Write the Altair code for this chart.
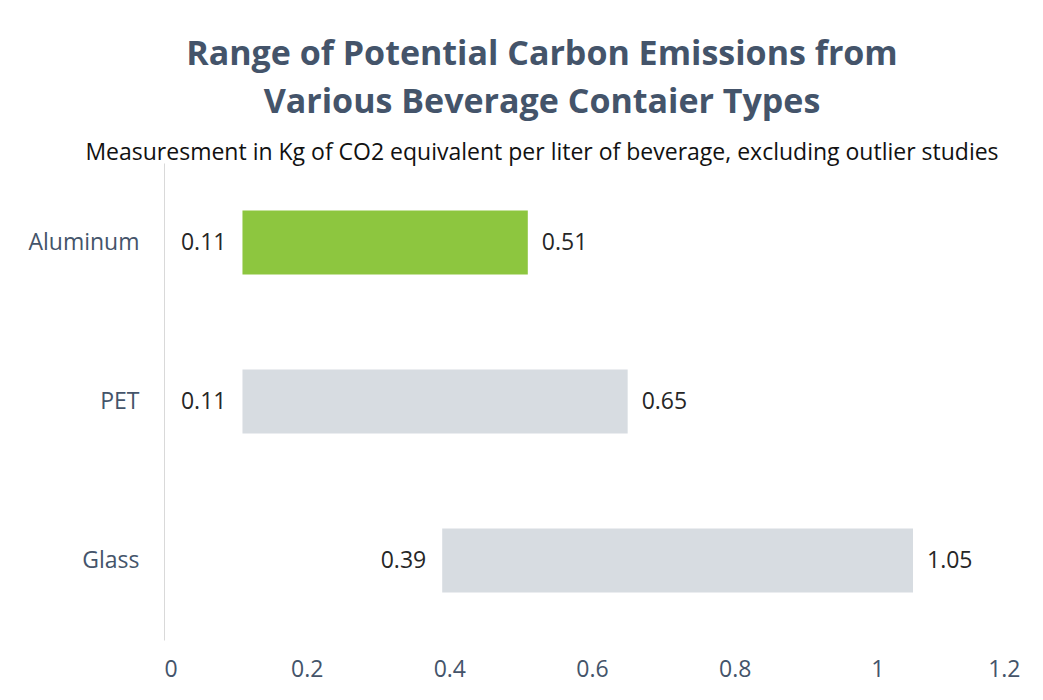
import altair as alt
import pandas as pd

categories = ["Aluminum", "PET", "Glass"]
low_values = [0.11, 0.11, 0.39]
high_values = [0.51, 0.65, 1.05]
x_ticks = [0, 0.2, 0.4, 0.6, 0.8, 1, 1.2]

df = pd.DataFrame({"cat": categories, "low": low_values, "high": high_values})

FONT = "Open Sans"
SLATE = "#44546A"
FS = 23

y_enc = alt.Y("cat:N", sort=categories, title=None,
              scale=alt.Scale(paddingInner=0, paddingOuter=0),
              axis=alt.Axis(domain=True, domainColor="#D9D9D9", domainWidth=1,
                            ticks=False, grid=False, labelPadding=25,
                            labelFontSize=FS, labelColor=SLATE, labelFont=FONT))
x_scale = alt.Scale(domain=[0, 1.2], nice=False, zero=True)
x_enc = alt.X("low:Q", scale=x_scale, title=None,
              axis=alt.Axis(values=x_ticks, format="~g", domain=False, ticks=False,
                            grid=False, labelPadding=18, labelFontSize=FS,
                            labelColor=SLATE, labelFont=FONT))

bars = alt.Chart(df).mark_bar(size=64).encode(
    y=y_enc,
    x=x_enc,
    x2="high:Q",
    color=alt.Color("cat:N", legend=None,
                    scale=alt.Scale(domain=categories,
                                    range=["#8DC63F", "#D7DCE1", "#D7DCE1"])),
)

low_text = alt.Chart(df).mark_text(align="right", baseline="middle", dx=-16,
                                   fontSize=FS, font=FONT, color="#262626").encode(
    y=alt.Y("cat:N", sort=categories),
    x=alt.X("low:Q", scale=x_scale),
    text=alt.Text("low:Q", format=".2f"),
)
high_text = alt.Chart(df).mark_text(align="left", baseline="middle", dx=14,
                                    fontSize=FS, font=FONT, color="#262626").encode(
    y=alt.Y("cat:N", sort=categories),
    x=alt.X("high:Q", scale=x_scale),
    text=alt.Text("high:Q", format=".2f"),
)

chart = alt.layer(bars, low_text, high_text).properties(
    width=856,
    height=477,
    autosize=alt.AutoSizeParams(type="none"),
    padding={"left": 156, "top": 155, "right": 15, "bottom": 50},
    title=alt.TitleParams(
        text=["Range of Potential Carbon Emissions from", "Various Beverage Contaier Types"],
        subtitle="Measuresment in Kg of CO2 equivalent per liter of beverage, excluding outlier studies",
        anchor="middle",
        dx=-50,
        font=FONT,
        fontSize=34,
        fontWeight="bold",
        color=SLATE,
        lineHeight=48,
        subtitleFont=FONT,
        subtitleFontSize=23,
        subtitleColor="#111111",
        subtitlePadding=22,
        offset=-2,
    ),
).configure(background="white").configure_view(strokeWidth=0)

chart.save("out.html", embed_options={"renderer": "svg", "actions": False})
